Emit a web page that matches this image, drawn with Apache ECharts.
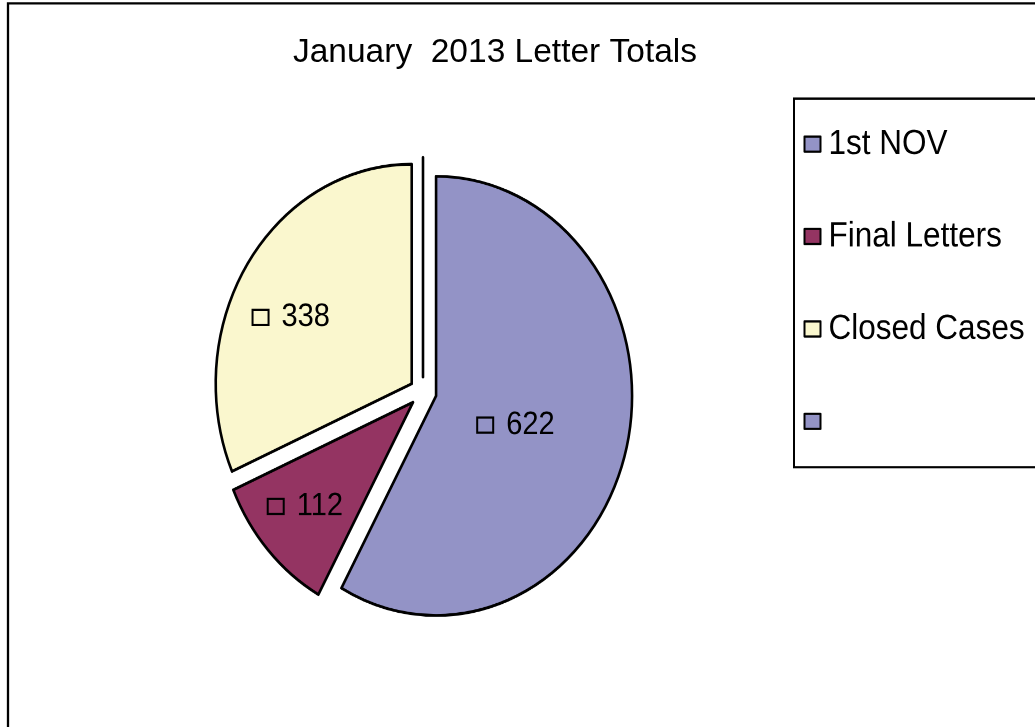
<!DOCTYPE html>
<html><head><meta charset="utf-8">
<script src="https://cdn.jsdelivr.net/npm/echarts@6/dist/echarts.min.js"></script>
<style>
html,body{margin:0;padding:0;background:#fff;overflow:hidden;}
#wrap{position:relative;width:1035px;height:727px;}
#bg{position:absolute;left:0;top:0;width:1035px;height:727px;}
#fg{position:absolute;left:0;top:0;width:1035px;height:649px;transform:scaleY(1.12018);transform-origin:0 0;}
</style></head><body>
<div id="wrap"><div id="bg"></div><div id="fg"></div></div>
<script>
// ---- data ----
const chartTitle = 'January  2013 Letter Totals';
const categories = ['1st NOV', 'Final Letters', 'Closed Cases', ' '];
const letterTotals = [622, 112, 338, 0];
// ---- styles ----
const sliceColors = ['#9393C6', '#943462', '#FAF7CE', '#9393C6'];
const labelShift = [[-18, 1], [-33, 25], [-36, -4], [0, 0]];
const FONT = '"Liberation Sans", Arial, Helvetica, sans-serif';

const bg = echarts.init(document.getElementById('bg'));
bg.setOption({
  animation: false,
  backgroundColor: '#ffffff',
  title: {
    text: chartTitle, left: 495, top: 35.5, textAlign: 'center', padding: 0,
    textStyle: { fontSize: 33.5, fontFamily: FONT, fontWeight: 'normal', color: '#000' }
  },
  graphic: [{
    type: 'rect', silent: true,
    shape: { x: 8, y: 3.3, width: 1200, height: 900 },
    style: { fill: 'none', stroke: '#000', lineWidth: 2.3 }
  }]
});

const fg = echarts.init(document.getElementById('fg'), null, { devicePixelRatio: 2 });
fg.setOption({
  animation: false,
  backgroundColor: 'transparent',
  legend: {
    data: categories, orient: 'vertical', left: 794, top: 88,
    padding: [24.6, 230, 25, 9.5], itemGap: 50.5, itemWidth: 16, itemHeight: 13.5,
    icon: 'rect', borderColor: '#000', borderWidth: 2, backgroundColor: 'transparent',
    selectedMode: false,
    textStyle: { fontSize: 31.5, fontFamily: FONT, color: '#000', lineHeight: 32, padding: [0, 0, 0, 3] },
    itemStyle: { borderColor: '#000', borderWidth: 2 }
  },
  series: [{
    type: 'pie', center: [423, 350], radius: 196, startAngle: 90, clockwise: true,
    selectedMode: 'multiple', selectedOffset: 13.5, avoidLabelOverlap: false, silent: true,
    itemStyle: { borderColor: '#000', borderWidth: 2.6 },
    emphasis: { disabled: true },
    label: {
      show: true, position: 'inside', fontSize: 29, fontFamily: FONT, color: '#000',
      textBorderWidth: 0,
      formatter: p => '{box|}{val|' + p.value + '}',
      rich: {
        box: { width: 16, height: 13.5, borderColor: '#000', borderWidth: 2, verticalAlign: 'middle' },
        val: { fontSize: 29, fontFamily: FONT, color: '#000', verticalAlign: 'middle', padding: [0, 0, 0, 13] }
      }
    },
    labelLine: { show: false },
    labelLayout: p => ({ dx: labelShift[p.dataIndex][0], dy: labelShift[p.dataIndex][1] }),
    data: categories.map((c, i) => ({
      name: c, value: letterTotals[i], selected: true,
      itemStyle: { color: sliceColors[i] },
      label: letterTotals[i] === 0 ? { show: false } : undefined
    }))
  }]
});
</script>
</body></html>
